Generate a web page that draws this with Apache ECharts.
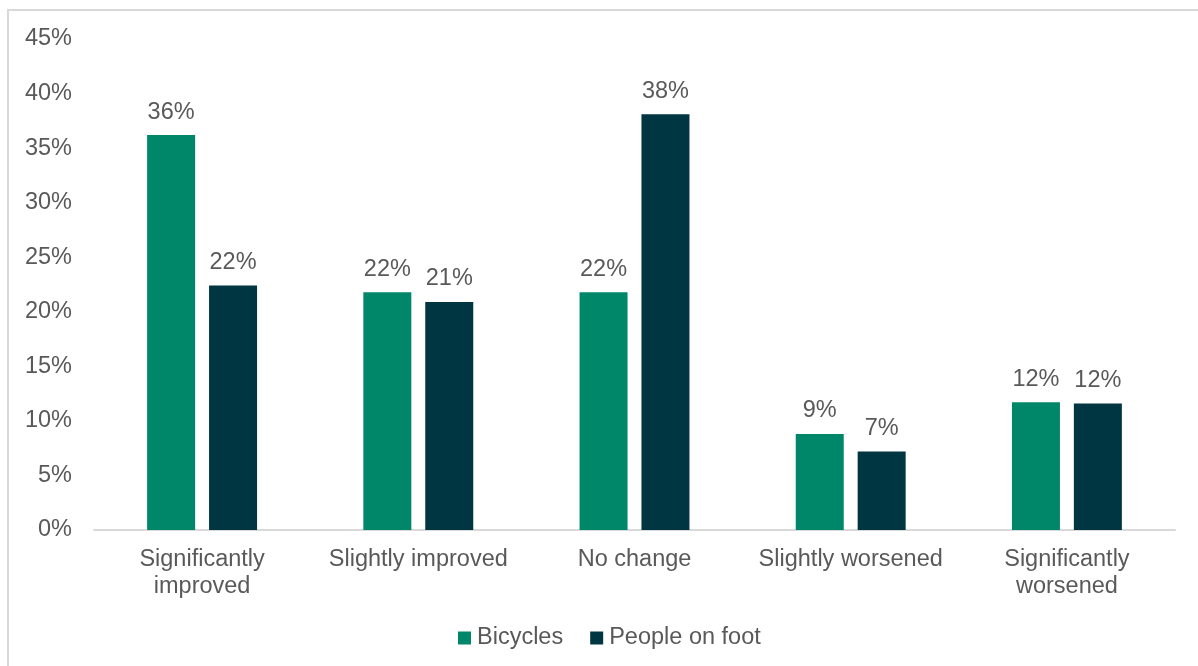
<!DOCTYPE html>
<html>
<head>
<meta charset="utf-8">
<title>Change in conditions: bicycles vs people on foot</title>
<script src="https://cdn.jsdelivr.net/npm/echarts@6/dist/echarts.min.js"></script>
<style>
  html, body { margin: 0; padding: 0; background: #fff; overflow: hidden; }
  #frame {
    position: absolute; left: 7px; top: 9px; width: 1220px; height: 690px;
    border: 2px solid #d9d9d9; box-sizing: border-box;
  }
  #chart { position: absolute; left: 0; top: 0; width: 1198px; height: 666px; }
</style>
</head>
<body>
<div id="frame"></div>
<div id="chart"></div>
<script>
// Response categories (x axis)
const categories = [
  'Significantly\nimproved',
  'Slightly improved',
  'No change',
  'Slightly worsened',
  'Significantly\nworsened'
];

// Share of respondents, in percent
const bicycles = [36.2, 21.8, 21.8, 8.8, 11.7];
const peopleOnFoot = [22.4, 20.9, 38.1, 7.2, 11.6];

// Y axis range and step, in percent
const yMin = 0;
const yMax = 45;
const yStep = 5;

const textColor = '#595959';
const fontFamily = '"Liberation Sans", Arial, sans-serif';
const fontSize = 23.5;

const chart = echarts.init(document.getElementById('chart'), null, { renderer: 'canvas' });

const labelStyle = {
  show: true,
  position: 'top',
  distance: 11,
  color: textColor,
  fontFamily: fontFamily,
  fontSize: fontSize,
  formatter: p => Math.round(p.value) + '%'
};

chart.setOption({
  animation: false,
  textStyle: { fontFamily: fontFamily, color: textColor },
  grid: { left: 94, right: 23, top: 39, bottom: 136, containLabel: false },
  legend: {
    bottom: 11,
    left: 453,
    icon: 'rect',
    itemWidth: 13,
    itemHeight: 13,
    itemGap: 27,
    textStyle: { color: textColor, fontSize: fontSize, fontFamily: fontFamily, padding: [0, 0, 0, 1] },
    data: ['Bicycles', 'People on foot']
  },
  xAxis: {
    type: 'category',
    data: categories,
    axisLine: { show: true, lineStyle: { color: '#d9d9d9', width: 2 } },
    axisTick: { show: false },
    axisLabel: {
      color: textColor,
      fontSize: fontSize,
      fontFamily: fontFamily,
      lineHeight: 27,
      margin: 16,
      interval: 0
    }
  },
  yAxis: {
    type: 'value',
    min: yMin,
    max: yMax,
    interval: yStep,
    splitLine: { show: false },
    axisLine: { show: false },
    axisTick: { show: false },
    axisLabel: {
      color: textColor,
      fontSize: fontSize,
      fontFamily: fontFamily,
      margin: 22,
      verticalAlign: 'middle',
      lineHeight: 28,
      padding: [6, 0, 0, 0],
      formatter: v => v + '%'
    }
  },
  series: [
    {
      name: 'Bicycles',
      type: 'bar',
      data: bicycles,
      barWidth: 48,
      barGap: '29%',
      itemStyle: { color: '#00876a' },
      label: labelStyle
    },
    {
      name: 'People on foot',
      type: 'bar',
      data: peopleOnFoot,
      barWidth: 48,
      barGap: '29%',
      itemStyle: { color: '#003641' },
      label: labelStyle
    }
  ]
});
</script>
</body>
</html>
